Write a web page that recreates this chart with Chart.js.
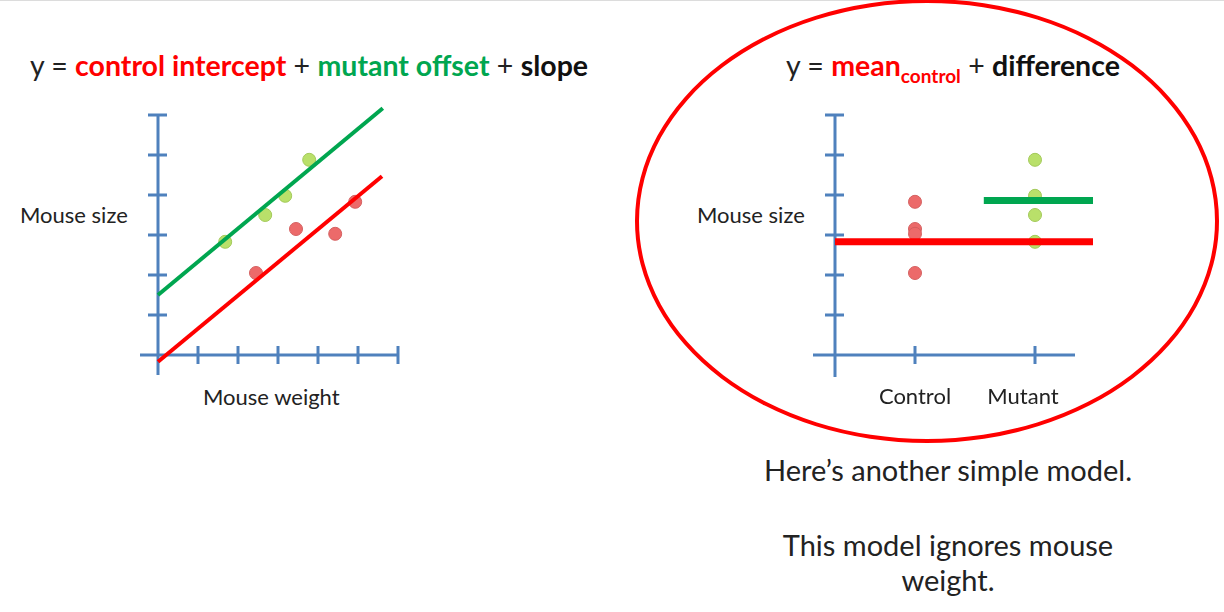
<!DOCTYPE html>
<html>
<head>
<meta charset="utf-8">
<script src="https://cdn.jsdelivr.net/npm/chart.js@4.4.1/dist/chart.umd.min.js"></script>
<style>
  html, body { margin: 0; padding: 0; background: #fff; }
  body { width: 1224px; height: 612px; position: relative; overflow: hidden; font-family: Lato, "Open Sans", sans-serif; color: #222; }
  #topline { position: absolute; left: 0; top: 0; width: 1224px; height: 1px; background: #dcdcdc; }
  .txt { position: absolute; white-space: nowrap; }
  .title { font-size: 28.5px; line-height: 34px; text-align: center; }
  .red { color: #ff0000; font-weight: bold; }
  .green { color: #00a650; font-weight: bold; }
  .bold { font-weight: bold; color: #111; }
  .lbl { font-size: 22px; line-height: 26px; }
  .note { font-size: 29px; line-height: 34px; text-align: center; width: 500px; left: 698px; }
  canvas { position: absolute; }
  #ring { position: absolute; left: 635px; top: -1px; width: 584px; height: 444px; box-sizing: border-box; border: 4px solid #ff0000; border-radius: 50%; }
</style>
</head>
<body>
<div id="topline"></div>
<div id="ring"></div>

<div class="txt title" style="left:9px; width:600px; top:48px;">y = <span class="red">control intercept</span> + <span class="green">mutant offset</span> + <span class="bold">slope</span></div>
<div class="txt title" style="left:653px; width:600px; top:48px;">y = <span class="red">mean<sub style="font-size:19px;">control</sub></span> + <span class="bold">difference</span></div>

<div class="txt lbl" style="left:20px; top:202px;">Mouse size</div>
<div class="txt lbl" style="left:203px; top:384px;">Mouse weight</div>
<div class="txt lbl" style="left:697px; top:202px;">Mouse size</div>

<div class="txt note" style="top:453px;">Here’s another simple model.</div>
<div class="txt note" style="top:528px;">This model ignores mouse</div>
<div class="txt note" style="top:563px;">weight.</div>

<canvas id="regChart" width="340" height="330" style="left:100px; top:90px;"></canvas>
<canvas id="meanChart" width="340" height="330" style="left:780px; top:90px;"></canvas>

<script>
// datos (unidades del eje: 1 marca = 1)
const controlWeight = [2.45, 3.45, 4.43, 4.93];
const controlSize = [2.05, 3.15, 3.03, 3.83];
const mutantWeight = [1.68, 2.68, 3.18, 3.78];
const mutantSize = [2.83, 3.5, 3.98, 4.88];

// rectas del modelo con pendiente
const controlFitX = [0, 5.6];
const controlFitY = [-0.17, 4.47];
const mutantFitX = [0, 5.62];
const mutantFitY = [1.5, 6.17];

// modelo de medias
const groups = ['Control', 'Mutant'];
const groupPos = [2, 5];
const controlMeanX = [0, 6.45];
const controlMean = 2.83;
const mutantMeanX = [3.72, 6.45];
const mutantMean = 3.86;

// marcas de los ejes
const weightTicks = [1, 2, 3, 4, 5, 6];
const sizeTicks = [1, 2, 3, 4, 5, 6];

const AXIS = '#4f81bd';
const RED = '#ff0000';
const GREEN = '#00a650';

const pts = (xs, ys) => xs.map((x, i) => ({ x: x, y: ys[i] }));
const flat = (xs, y) => xs.map(x => ({ x: x, y: y }));
const column = (x, ys) => ys.map(y => ({ x: x, y: y }));

// ejes dibujados a mano: linea + marcas que cruzan el eje
const crossAxes = {
    id: 'crossAxes',
    beforeDatasetsDraw(chart, args, opts) {
        const { ctx, scales: { x, y } } = chart;
        const x0 = x.getPixelForValue(0), y0 = y.getPixelForValue(0);
        ctx.save();
        ctx.strokeStyle = AXIS;
        ctx.lineWidth = 3;
        ctx.beginPath();
        ctx.moveTo(x.getPixelForValue(opts.xFrom), y0);
        ctx.lineTo(x.getPixelForValue(opts.xTo), y0);
        ctx.moveTo(x0, y.getPixelForValue(opts.yFrom));
        ctx.lineTo(x0, y.getPixelForValue(opts.yTo));
        opts.xTicks.forEach(v => {
            const px = x.getPixelForValue(v);
            ctx.moveTo(px, y0 - 9);
            ctx.lineTo(px, y0 + 9);
        });
        opts.yTicks.forEach(v => {
            const py = y.getPixelForValue(v);
            ctx.moveTo(x0 - 10, py);
            ctx.lineTo(x0 + 9, py);
        });
        ctx.stroke();
        // nombres de grupo bajo el eje
        if (opts.labels) {
            ctx.fillStyle = '#222';
            ctx.font = '22px Lato, sans-serif';
            ctx.textAlign = 'center';
            ctx.textBaseline = 'middle';
            opts.labels.forEach((t, i) => {
                const dx = opts.labelShift ? opts.labelShift[i] : 0;
                ctx.fillText(t, x.getPixelForValue(opts.xTicks[i]) + dx, y0 + 42);
            });
        }
        ctx.restore();
    }
};

const dot = (fill, border) => ({
    type: 'scatter',
    pointRadius: 6.5,
    pointBackgroundColor: fill,
    pointBorderColor: border,
    pointBorderWidth: 1,
    showLine: false
});

const baseOptions = (xmin, xmax, axisOpts) => ({
    responsive: false,
    animation: false,
    events: [],
    layout: { padding: 0, autoPadding: false },
    plugins: { legend: { display: false }, tooltip: { enabled: false }, crossAxes: axisOpts },
    scales: {
        x: { type: 'linear', min: xmin, max: xmax, display: false },
        y: { type: 'linear', min: -1.625, max: 6.625, display: false }
    }
});

new Chart(document.getElementById('regChart'), {
    type: 'scatter',
    data: {
        datasets: [
            { type: 'line', data: pts(mutantFitX, mutantFitY), borderColor: GREEN, borderWidth: 4, pointRadius: 0, clip: false },
            { type: 'line', data: pts(controlFitX, controlFitY), borderColor: RED, borderWidth: 4, pointRadius: 0, clip: false },
            Object.assign(dot('#b9e06a', '#a3c95a'), { data: pts(mutantWeight, mutantSize) }),
            Object.assign(dot('#ec6a6a', '#d46060'), { data: pts(controlWeight, controlSize) })
        ]
    },
    options: baseOptions(-1.45, 7.05, { xFrom: -0.45, xTo: 6, yFrom: -0.5, yTo: 6, xTicks: weightTicks, yTicks: sizeTicks }),
    plugins: [crossAxes]
});

new Chart(document.getElementById('meanChart'), {
    type: 'scatter',
    data: {
        datasets: [
            { type: 'line', data: flat(controlMeanX, controlMean), borderColor: RED, borderWidth: 7, pointRadius: 0, borderCapStyle: 'butt', clip: false },
            { type: 'line', data: flat(mutantMeanX, mutantMean), borderColor: GREEN, borderWidth: 7, pointRadius: 0, borderCapStyle: 'butt', clip: false },
            Object.assign(dot('#b9e06a', '#a3c95a'), { data: column(groupPos[1], mutantSize) }),
            Object.assign(dot('#ec6a6a', '#d46060'), { data: column(groupPos[0], controlSize) })
        ]
    },
    options: baseOptions(-1.375, 7.125, { xFrom: -0.55, xTo: 6, yFrom: -0.55, yTo: 6, xTicks: groupPos, yTicks: sizeTicks, labels: groups, labelShift: [0, -12] }),
    plugins: [crossAxes]
});
</script>
</body>
</html>
